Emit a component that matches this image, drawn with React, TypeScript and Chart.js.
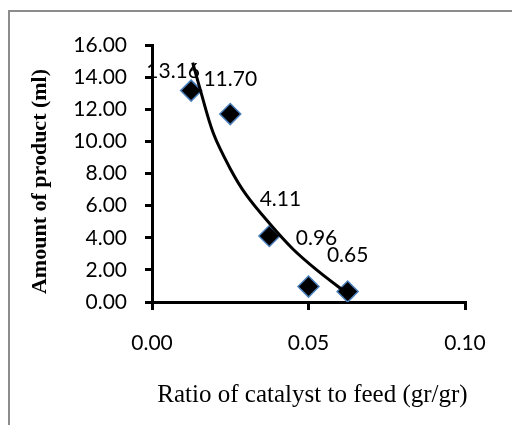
import React, { useEffect, useRef } from "react";
import { Chart, registerables } from "chart.js";

Chart.register(...registerables);

// Data
const X_VALUES = [0.0125, 0.025, 0.0375, 0.05, 0.0625];
const Y_VALUES = [13.16, 11.7, 4.11, 0.96, 0.65];
const POINT_LABELS = ["13.16", "11.70", "4.11", "0.96", "0.65"];

// Trend line
const TREND_X = [0.013, 0.0153, 0.0196, 0.025, 0.03, 0.0375, 0.045, 0.0526, 0.0622];
const TREND_Y = [14.9, 13.3, 10.5, 8.3, 6.7, 4.9, 3.3, 2.0, 0.55];

const X_TICKS = [0, 0.05, 0.1];
const Y_TICKS = [0, 2, 4, 6, 8, 10, 12, 14, 16];

const X_TITLE = "Ratio of catalyst to feed (gr/gr)";
const Y_TITLE = "Amount of product (ml)";

// label placement offsets (px) relative to each point — styling only
const LABEL_OFFSETS: [number, number][] = [
  [-18, -19],
  [0, -35],
  [11, -37],
  [8, -48],
  [0, -36],
];

const TICK_FONT = { family: "Lato", size: 21 };

export default function App() {
  const ref = useRef<HTMLCanvasElement | null>(null);

  useEffect(() => {
    if (!ref.current) return;
    const labelPlugin = {
      id: "pointLabels",
      afterDatasetsDraw(chart: any) {
        const ctx = chart.ctx;
        const xs = chart.scales.x;
        const ys = chart.scales.y;
        ctx.save();
        ctx.font = `${TICK_FONT.size}px ${TICK_FONT.family}`;
        ctx.fillStyle = "#000";
        ctx.textAlign = "center";
        ctx.textBaseline = "middle";
        X_VALUES.forEach((xv, i) => {
          const px = xs.getPixelForValue(xv);
          const py = ys.getPixelForValue(Y_VALUES[i]);
          const [dx, dy] = LABEL_OFFSETS[i];
          ctx.fillText(POINT_LABELS[i], px + dx, py + dy);
        });
        ctx.restore();
      },
    };
    const titlePlugin = {
      id: "axisTitles",
      afterDraw(chart: any) {
        const ctx = chart.ctx;
        const area = chart.chartArea;
        ctx.save();
        ctx.fillStyle = "#000";
        ctx.textAlign = "center";
        ctx.textBaseline = "middle";
        ctx.font = `25px "Liberation Serif"`;
        ctx.fillText(X_TITLE, (area.left + area.right) / 2 + 4, area.bottom + 93);
        ctx.translate(40, (area.top + area.bottom) / 2 + 8);
        ctx.rotate(-Math.PI / 2);
        ctx.font = `bold 22px "Liberation Serif"`;
        ctx.fillText(Y_TITLE, 0, 0);
        ctx.restore();
      },
    };

    const chart = new Chart(ref.current, {
      type: "scatter",
      data: {
        datasets: [
          {
            type: "line",
            label: "trend",
            data: TREND_X.map((x, i) => ({ x, y: TREND_Y[i] })),
            borderColor: "#000",
            borderWidth: 3,
            pointRadius: 0,
            tension: 0.35,
            fill: false,
            order: 0,
          } as any,
          {
            label: "Amount of product",
            data: X_VALUES.map((x, i) => ({ x, y: Y_VALUES[i] })),
            pointStyle: "rectRot",
            pointRadius: 10.5,
            pointHoverRadius: 10.5,
            backgroundColor: "#000",
            borderColor: "#4a7ebb",
            borderWidth: 1.5,
            order: 1,
          },
        ],
      },
      options: {
        responsive: false,
        animation: false,
        devicePixelRatio: 1,
        layout: { padding: { top: 45, right: 47, left: 0, bottom: 0 } },
        plugins: {
          legend: { display: false },
          tooltip: { enabled: false },
        },
        scales: {
          x: {
            type: "linear",
            min: 0,
            max: 0.1,
            afterBuildTicks: (s: any) => {
              s.ticks = X_TICKS.map((v) => ({ value: v }));
            },
            afterFit: (s: any) => {
              s.height = 123;
            },
            ticks: {
              callback: (v: any) => Number(v).toFixed(2),
              font: TICK_FONT,
              color: "#000",
              padding: 21,
              maxRotation: 0,
            },
            grid: {
              drawOnChartArea: false,
              drawTicks: true,
              tickLength: 8,
              color: "#000",
              lineWidth: 3,
            },
            border: { display: true, color: "#000", width: 3 },
            title: { display: false },
          },
          y: {
            type: "linear",
            min: 0,
            max: 16,
            afterBuildTicks: (s: any) => {
              s.ticks = Y_TICKS.map((v) => ({ value: v }));
            },
            afterFit: (s: any) => {
              s.width = 152;
            },
            ticks: {
              callback: (v: any) => Number(v).toFixed(2),
              font: TICK_FONT,
              color: "#000",
              padding: 18,
            },
            grid: {
              drawOnChartArea: false,
              drawTicks: true,
              tickLength: 7,
              color: "#000",
              lineWidth: 3,
            },
            border: { display: true, color: "#000", width: 3 },
            title: { display: false },
          },
        },
      },
      plugins: [labelPlugin, titlePlugin],
    });
    return () => chart.destroy();
  }, []);

  return (
    <div
      style={{
        position: "fixed",
        left: 0,
        top: 0,
        width: 512,
        height: 425,
        overflow: "hidden",
        background: "#fff",
      }}
    >
      <div
        style={{
          position: "absolute",
          left: 8,
          top: 10,
          width: 600,
          height: 500,
          borderTop: "2px solid #8c8c8c",
          borderLeft: "2px solid #8c8c8c",
        }}
      />
      <canvas
        ref={ref}
        width={512}
        height={425}
        style={{ position: "absolute", left: 0, top: 0 }}
      />
    </div>
  );
}
